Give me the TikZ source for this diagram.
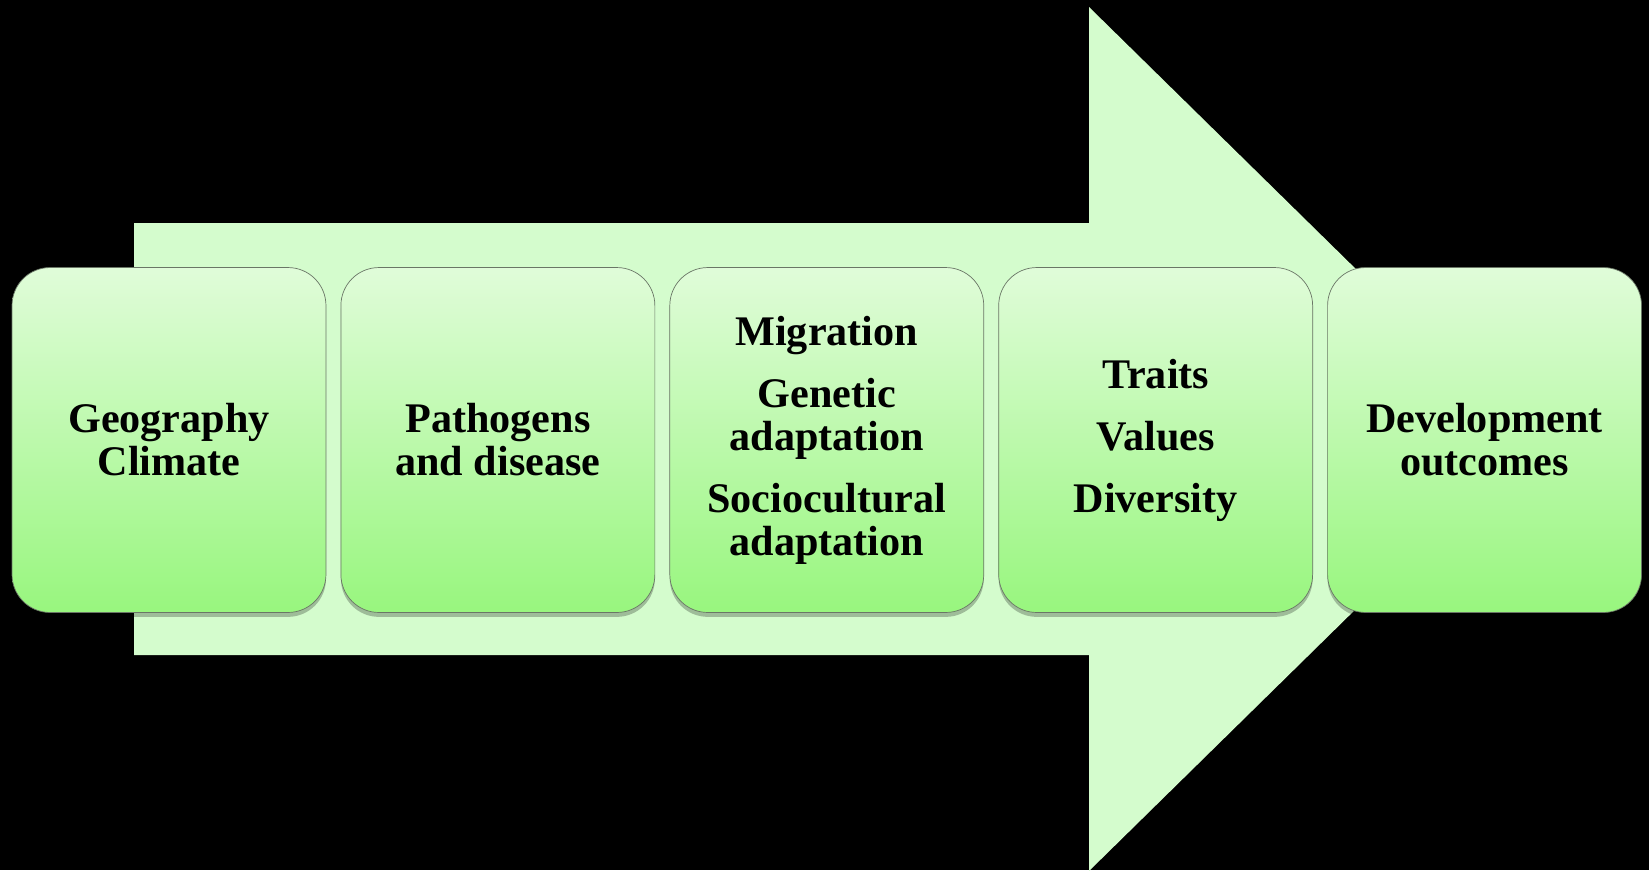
\documentclass[tikz,border=0pt]{standalone}
\usepackage{fontspec}
\setmainfont{Liberation Serif}
\usetikzlibrary{positioning, shadows}

\definecolor{arrowgreen}{HTML}{D4FCCD}
\definecolor{boxtop}{HTML}{E0FCD9}
\definecolor{boxbottom}{HTML}{98F67E}
\definecolor{boxline}{HTML}{6A7666}

\begin{document}
\begin{tikzpicture}[
x = 0.02cm, y = -0.02cm, % one unit is one pixel of the reference
node distance = 0.285cm, % gap between the boxes
semithick
]
\tikzstyle{stage}=[
draw = boxline,
thin,
top color = boxtop,
bottom color = boxbottom,
rounded corners = 0.76cm,
minimum width = 6.28cm,
minimum height = 6.9cm,
inner sep = 0pt,
align = center,
font = \fontsize{24}{24.5}\selectfont\bfseries,
drop shadow = {shadow xshift = 0pt, shadow yshift = -2.5pt, opacity = 0.25, fill = black}
]
% black page
\fill[black] (0,0) rectangle (1649,870);
\useasboundingbox (0,0) rectangle (1649,870);
% big arrow behind the boxes
\fill[arrowgreen] (134,223) -- (1089,223) -- (1089,7) -- (1529,439)
  -- (1089,871) -- (1089,655) -- (134,655) -- cycle;
\node[stage] (geo) at (169,440) {Geography\\Climate};
\node[stage] (path) [right=of geo] {Pathogens\\and disease};
\node[stage] (adapt) [right=of path] {Migration\\[0.38cm]Genetic\\adaptation\\[0.38cm]Sociocultural\\adaptation};
\node[stage] (traits) [right=of adapt] {Traits\\[0.38cm]Values\\[0.38cm]Diversity};
\node[stage] (dev) [right=of traits] {Development\\outcomes};
\end{tikzpicture}
\end{document}
